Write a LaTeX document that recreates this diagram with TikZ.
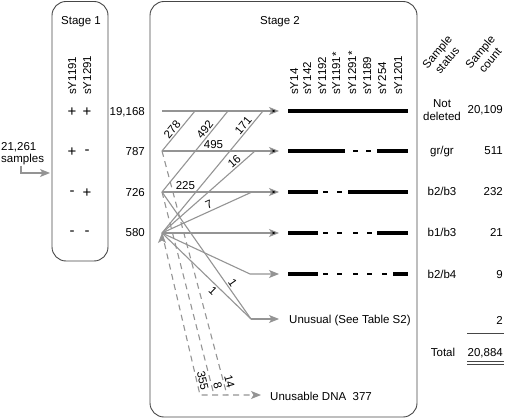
\documentclass[tikz,border=0pt]{standalone}
\usepackage{fontspec}
\setmainfont{Liberation Sans}
\usetikzlibrary{positioning,arrows.meta}
\definecolor{flowgray}{RGB}{148,148,148}
\definecolor{boxgray}{RGB}{70,70,70}
\tikzset{stage box/.style={draw=boxgray,line width=0.9pt,rounded corners=14pt},
  lbl/.style={text height=8pt,text depth=0pt,inner sep=1pt},
  marker/.style={lbl,rotate=90,anchor=west},
  sign/.style={font=\fontsize{15}{16}\selectfont,inner sep=0pt},
  flow/.style={draw=flowgray,line width=1.1pt},
  flow arrow/.style={flow,-{Stealth[length=10pt,width=8pt,inset=2.5pt]}},
  lost/.style={flow,dash pattern=on 6pt off 4.5pt},
  on line/.style={lbl,sloped,inner sep=1.5pt},
  present/.style={draw=black,line width=3.2pt},
  absent/.style={draw=black,line width=1.8pt},
  rule/.style={draw=boxgray,line width=1pt}}

\begin{document}
\begin{tikzpicture}[x=1pt,y=-1pt,font=\fontsize{11.5}{13}\selectfont]
            \useasboundingbox (0,0) rectangle (505,419);

            \draw[stage box] (52,1.5) rectangle (108,261);
            \draw[stage box] (150,1.5) rectangle (417,417);
            \node[lbl] (stage1) at (81,21) {Stage 1};
            \node[lbl] (stage2) at (280,21) {Stage 2};

            \node[lbl,anchor=west] (total in) at (0,147) {21,261};
            \node[lbl,anchor=west] (samples) at (0,159) {samples};
            \coordinate (entry) at (21,166);
            \coordinate (box in) at (50,173);
            \draw[flow arrow] (entry) |- (box in);

            \node[marker] (p1) at (72,96) {sY1191};
            \node[marker] (p2) at (87,96) {sY1291};
            \foreach \a/\b/\n/\y [count=\i] in {+/+/19{,}168/112,+/-/787/152,-/+/726/193,-/-/580/233}{
                \node[sign] (l\i) at (72,\y) {\a};
                \node[sign] (r\i) at (87,\y) {\b};
                \node[lbl,anchor=east] (c\i) at (146,\y) {\n};
            }

            \foreach \m/\x [count=\i] in {sY14/294,sY142/307,sY1192/322,sY1191*/336,sY1291*/352,sY1189/367,sY254/382,sY1201/398}
                \node[marker] (m\i) at (\x,96) {\m};

            \coordinate (s1) at (162,111);
            \coordinate (s2) at (162,151);
            \coordinate (s3) at (162,192);
            \coordinate (s4) at (162,233);
            \coordinate (t1) at (279,111);
            \coordinate (t2) at (279,151);
            \coordinate (t3) at (279,192);
            \coordinate (t4) at (279,233);
            \coordinate (t5) at (279,274);
            \coordinate (t6) at (279,319);
            \coordinate (k5) at (250,274);
            \coordinate (k6) at (251,319);
            \coordinate (a1) at (195,111);
            \coordinate (a2) at (228,111);
            \coordinate (a3) at (263,111);
            \coordinate (b2) at (255,151);
            \coordinate (b3) at (252,192);
            \coordinate (d2) at (227,395);
            \coordinate (d3) at (214,395);
            \coordinate (d4) at (200,395);
            \coordinate (u) at (261,395);

            \path[flow arrow]
            (s1) edge (t1)
            (s2) edge node[on line,above,pos=0.44] (n495) {495} (t2)
            (s3) edge node[on line,above,pos=0.2] (n225) {225} (t3)
            (s4) edge (t4);

            \path[flow]
            (s2) edge node[on line,above,pos=0.45] (n278) {278} (a1)
            (s3) edge node[on line,above,pos=0.72] (n492) {492} (a2)
            (s4) edge node[on line,above,pos=0.85] (n171) {171} (a3)
            (s4) edge node[on line,above,pos=0.82] (n16) {16} (b2)
            (s4) edge node[on line,above,pos=0.55] (n7) {7} (b3)
            (s3) edge node[on line,above,pos=0.74] (n1a) {1} (k6)
            (s4) edge node[on line,below,pos=0.62] (n1b) {1} (k6);

            \draw[flow arrow] (s4) -- (k5) -- (t5);
            \draw[flow arrow] (k6) -- (t6);

            \path[lost]
            (s2) edge node[on line,above,pos=0.95] (n14) {14} (d2)
            (s3) edge node[on line,above,pos=0.96] (n8) {8} (d3);
            \draw[lost,-{Stealth[length=10pt,width=8pt,inset=2.5pt]}] (s4) -- node[on line,above,pos=0.92] (n355) {355} (d4) -- (u);

            \draw[present] (288,111) -- (408,111);
            \draw[present] (288,151) -- (345,151) (377,151) -- (408,151);
            \draw[present] (288,192) -- (318,192) (348,192) -- (408,192);
            \draw[present] (288,233) -- (318,233) (377,233) -- (408,233);
            \draw[present] (288,274) -- (318,274) (393,274) -- (408,274);
            \foreach \x in {353,366} \draw[absent] (\x,151) -- +(5,0);
            \foreach \x in {323,337} \draw[absent] (\x,192) -- +(5,0);
            \foreach \x in {323,337,353,367} \draw[absent] (\x,233) -- +(5,0);
            \foreach \x in {323,337,353,367,382} \draw[absent] (\x,274) -- +(5,0);

            \node[lbl,anchor=west] (unusual) at (288,319) {Unusual (See Table S2)};
            \node[lbl,anchor=west] (unusable) at (269,396) {Unusable DNA\ \ 377};

            \node[rotate=50,align=center,inner sep=0pt] (status head) at (442,56) {Sample\\status};
            \node[rotate=50,align=center,inner sep=0pt] (count head) at (485,56) {Sample\\count};
            \node[align=center,inner sep=0pt] (st1) at (442,110) {Not\\deleted};
            \node[lbl] (st2) at (442,151) {gr/gr};
            \node[lbl] (st3) at (442,192) {b2/b3};
            \node[lbl] (st4) at (442,233) {b1/b3};
            \node[lbl] (st5) at (442,274) {b2/b4};
            \node[lbl] (total) at (443,352) {Total};
            \node[lbl,anchor=east] (sc1) at (504,110) {20,109};
            \node[lbl,anchor=east] (sc2) at (504,151) {511};
            \node[lbl,anchor=east] (sc3) at (504,192) {232};
            \node[lbl,anchor=east] (sc4) at (504,233) {21};
            \node[lbl,anchor=east] (sc5) at (504,274) {9};
            \node[lbl,anchor=east] (sc6) at (504,320) {2};
            \node[lbl,anchor=east] (total count) at (504,352) {20,884};
            \draw[rule] (467,333) -- (504,333);
            \draw[rule] (467,361) -- (504,361) (467,364.5) -- (504,364.5);
        \end{tikzpicture}
\end{document}
